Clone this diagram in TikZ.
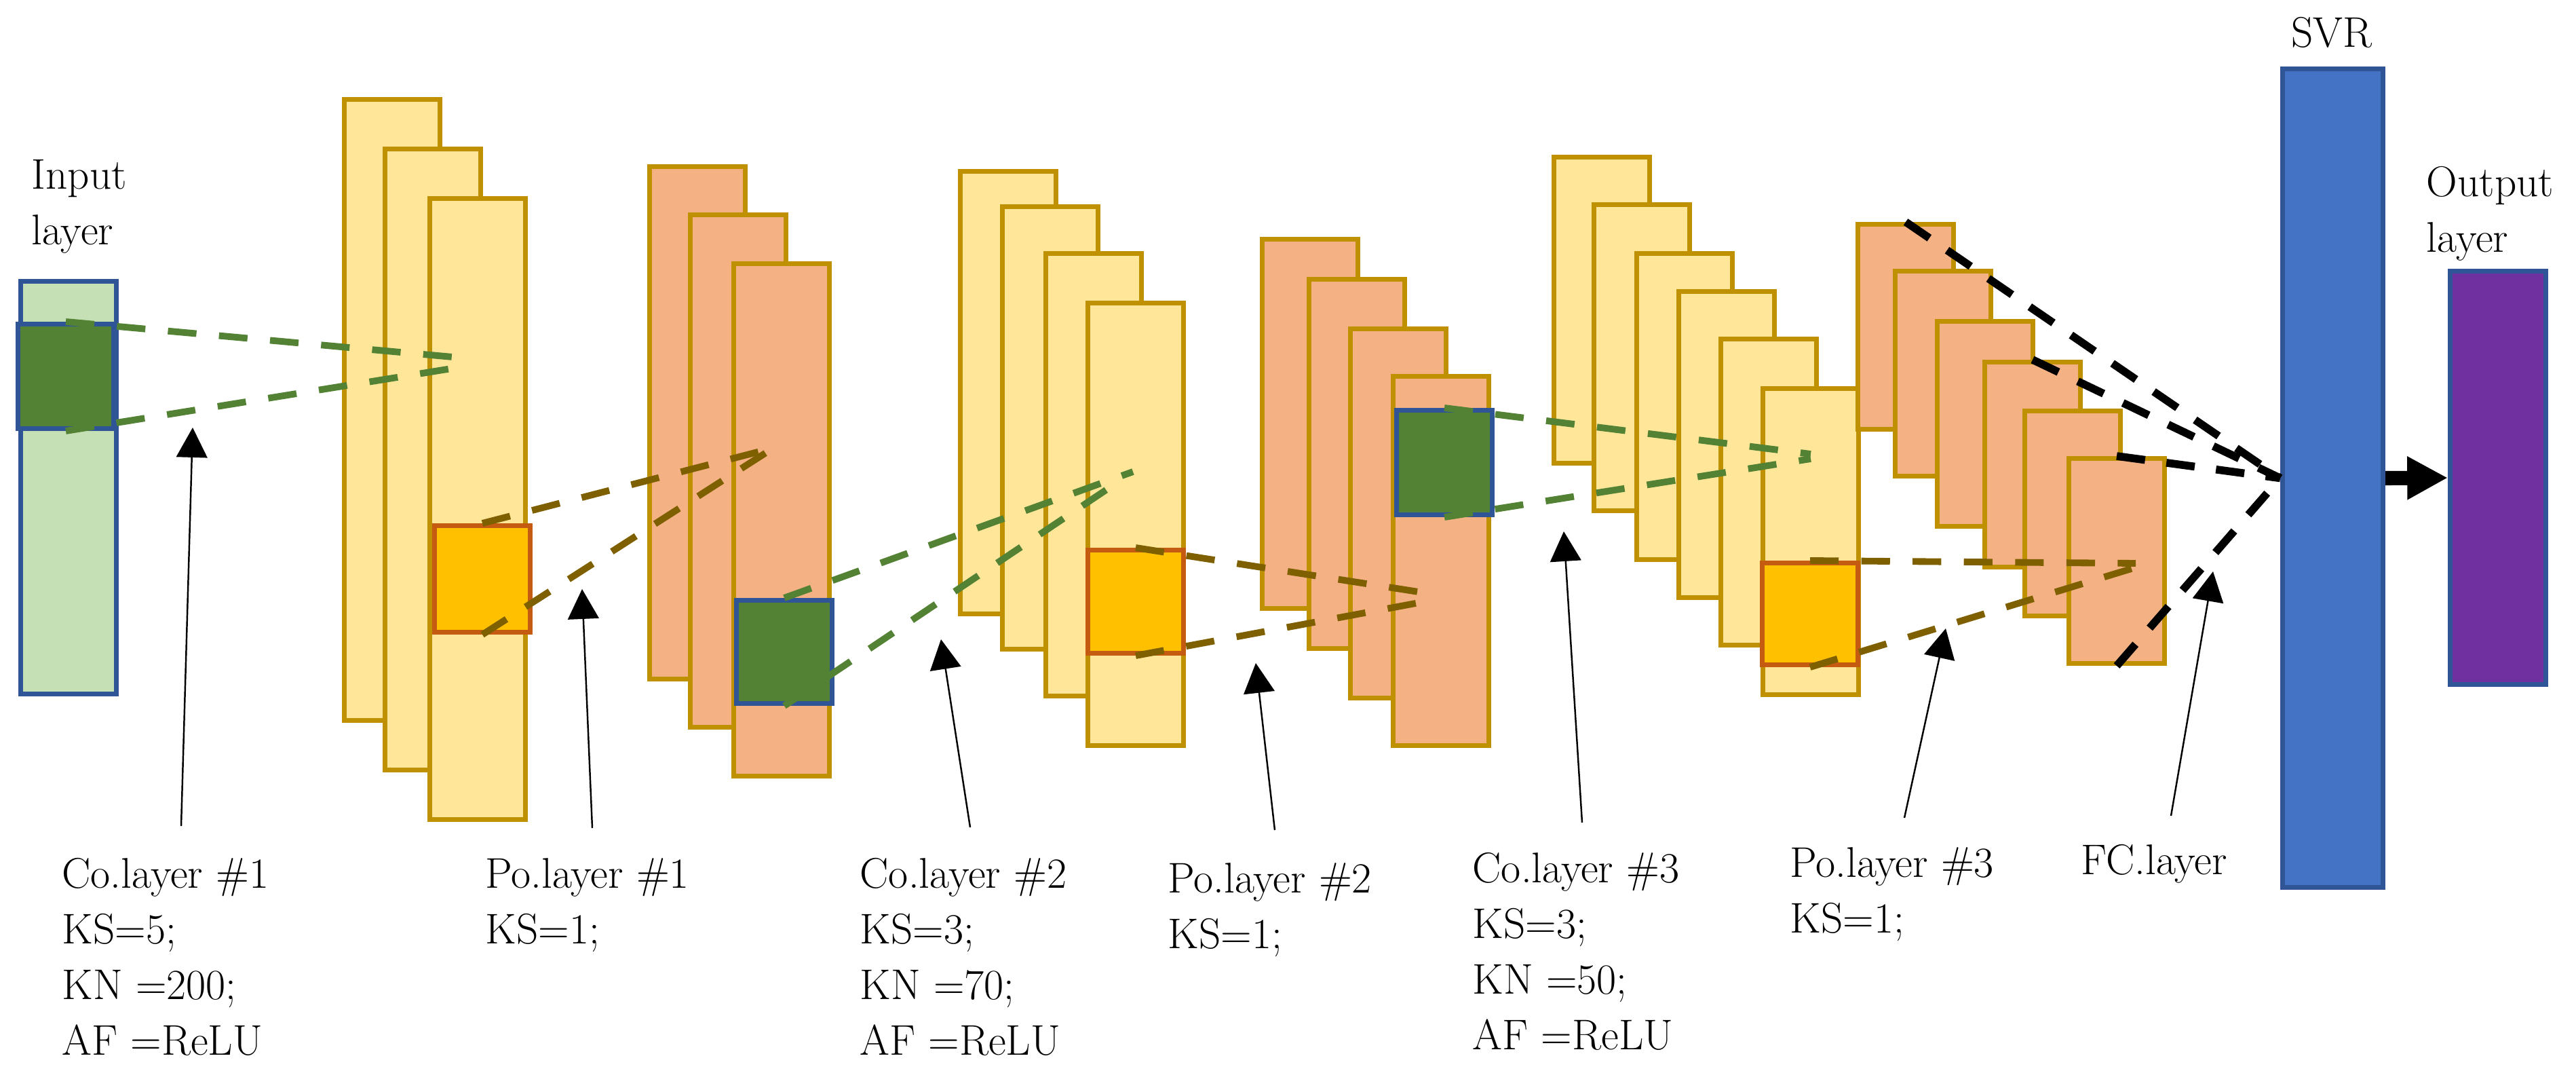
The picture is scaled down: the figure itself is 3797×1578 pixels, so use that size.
\documentclass[tikz,border=0pt]{standalone}
\usepackage{tikz}
\usetikzlibrary{arrows.meta}

\definecolor{inblue}{HTML}{2F5597}
\definecolor{ingreen}{HTML}{C5E0B4}
\definecolor{dgreen}{HTML}{548235}
\definecolor{gold}{HTML}{BF9000}
\definecolor{lyellow}{HTML}{FFE699}
\definecolor{salmon}{HTML}{F4B183}
\definecolor{amber}{HTML}{FFC000}
\definecolor{rust}{HTML}{C55A11}
\definecolor{dbrown}{HTML}{7F6000}
\definecolor{svrblue}{HTML}{4472C4}
\definecolor{purp}{HTML}{7030A0}

\tikzset{
  box/.style={anchor=north west, inner sep=0pt, line width=2pt, minimum width=1.41cm},
  inlay/.style={box, draw=inblue, fill=ingreen},
  conv/.style={box, draw=gold, fill=lyellow},
  pool/.style={box, draw=gold, fill=salmon},
  gsq/.style={box, draw=inblue, fill=dgreen},
  osq/.style={box, draw=rust, fill=amber},
  gdash/.style={draw=dgreen, line width=2.8pt, dash pattern=on 12pt off 9.5pt},
  bdash/.style={draw=dbrown, line width=2.8pt, dash pattern=on 12pt off 9.5pt},
  kdash/.style={draw=black, line width=3.3pt, dash pattern=on 12pt off 9pt},
  pointer/.style={-{Triangle[length=12.5pt,width=13pt]}, line width=0.7pt},
  lab/.style={anchor=north west, inner sep=0pt, align=left,
    font=\fontsize{18pt}{23.3pt}\selectfont}
}

\begin{document}
\begin{tikzpicture}[x=0.1mm, y=-0.1mm]
  \useasboundingbox (0,0) rectangle (3797,1578);

  % input
  \node[inlay, minimum height=6.08cm] (in) at (27,411) {};
  \node[gsq, minimum height=1.54cm] (insq) at (23,474) {};
  \node[lab] (inlab) at (46,235) {Input\\layer};

  % conv 1
  \node[conv, minimum height=9.15cm] (co1a) at (504,143) {};
  \node[conv, minimum height=9.15cm] (co1b) at (564,216) {};
  \node[conv, minimum height=9.15cm] (co1c) at (630,289) {};
  \node[osq, minimum height=1.57cm] (sqa) at (637,771) {};

  % pool 1
  \node[pool, minimum height=7.55cm] (po1a) at (954,242) {};
  \node[pool, minimum height=7.55cm] (po1b) at (1014,313) {};
  \node[pool, minimum height=7.55cm] (po1c) at (1078,385) {};
  \node[gsq, minimum height=1.52cm] (sqb) at (1082,881) {};

  % conv 2
  \node[conv, minimum height=6.52cm] (co2a) at (1412,249) {};
  \node[conv, minimum height=6.52cm] (co2b) at (1474,301) {};
  \node[conv, minimum height=6.52cm] (co2c) at (1538,370) {};
  \node[conv, minimum height=6.52cm] (co2d) at (1600,443) {};
  \node[osq, minimum height=1.52cm] (sqc) at (1600,807) {};

  % pool 2
  \node[pool, minimum height=5.44cm] (po2a) at (1857,349) {};
  \node[pool, minimum height=5.44cm] (po2b) at (1926,408) {};
  \node[pool, minimum height=5.44cm] (po2c) at (1987,481) {};
  \node[pool, minimum height=5.44cm] (po2d) at (2050,551) {};
  \node[gsq, minimum height=1.54cm] (sqd) at (2055,601) {};

  % conv 3
  \node[conv, minimum height=4.51cm] (co3a) at (2287,228) {};
  \node[conv, minimum height=4.51cm] (co3b) at (2346,298) {};
  \node[conv, minimum height=4.51cm] (co3c) at (2409,370) {};
  \node[conv, minimum height=4.51cm] (co3d) at (2471,426) {};
  \node[conv, minimum height=4.51cm] (co3e) at (2533,496) {};
  \node[conv, minimum height=4.51cm] (co3f) at (2595,569) {};
  \node[osq, minimum height=1.50cm] (sqe) at (2594,826) {};

  % pool 3
  \node[pool, minimum height=3.02cm] (po3a) at (2735,327) {};
  \node[pool, minimum height=3.02cm] (po3b) at (2790,396) {};
  \node[pool, minimum height=3.02cm] (po3c) at (2852,470) {};
  \node[pool, minimum height=3.02cm] (po3d) at (2922,530) {};
  \node[pool, minimum height=3.02cm] (po3e) at (2981,602) {};
  \node[pool, minimum height=3.02cm] (po3f) at (3046,672) {};

  % svr and output
  \node[box, draw=inblue, fill=svrblue, minimum width=1.48cm, minimum height=12.06cm] (svr) at (3361,98) {};
  \node[anchor=base, inner sep=0pt, font=\fontsize{18pt}{23.3pt}\selectfont] (svrlab) at (3437,70) {SVR};
  \node[box, draw=inblue, fill=purp, minimum height=6.09cm] (outl) at (3608,396) {};
  \node[lab] (outlab) at (3576,245) {Output\\layer};

  % kernel ends
  \coordinate (ga1) at (678,527);
  \coordinate (ga2) at (678,541);
  \coordinate (ba) at (1140,660);
  \coordinate (gb1) at (1670,695);
  \coordinate (gb2) at (1645,712);
  \coordinate (bb1) at (2097,873);
  \coordinate (bb2) at (2097,887);
  \coordinate (gc1) at (2669,669);
  \coordinate (gc2) at (2669,676);
  \coordinate (bc1) at (3148,830);
  \coordinate (bc2) at (3148,836);

  \draw[gdash] (insq.north) -- (ga1);
  \draw[gdash] (insq.south) -- (ga2);
  \draw[bdash] (sqa.north) -- (ba);
  \draw[bdash] (sqa.south) -- (ba);
  \draw[gdash] (sqb.north) -- (gb1);
  \draw[gdash] (sqb.south) -- (gb2);
  \draw[bdash] (sqc.north) -- (bb1);
  \draw[bdash] (sqc.south) -- (bb2);
  \draw[gdash] (sqd.north) -- (gc1);
  \draw[gdash] (sqd.south) -- (gc2);
  \draw[bdash] (sqe.north) -- (bc1);
  \draw[bdash] (sqe.south) -- (bc2);

  \draw[kdash] (po3a.north) -- (svr.west);
  \draw[kdash] (po3d.north) -- (svr.west);
  \draw[kdash] (po3f.north) -- (svr.west);
  \draw[kdash] (po3f.south) -- (svr.west);

  \draw[-{Triangle[length=17pt,width=17pt]}, line width=6pt] (svr.east) -- (outl.west);

  % labels
  \node[lab] (l1) at (91,1264) {Co.layer \#1\\KS=5;\\KN =200;\\AF =ReLU};
  \node[lab] (l2) at (715,1264) {Po.layer \#1\\KS=1;};
  \node[lab] (l3) at (1267,1264) {Co.layer \#2\\KS=3;\\KN =70;\\AF =ReLU};
  \node[lab] (l4) at (1721,1271) {Po.layer \#2\\KS=1;};
  \node[lab] (l5) at (2170,1256) {Co.layer \#3\\KS=3;\\KN =50;\\AF =ReLU};
  \node[lab] (l6) at (2638,1248) {Po.layer \#3\\KS=1;};
  \node[lab] (l7) at (3067,1244) {FC.layer};

  \coordinate (s1) at (267,1217);  \coordinate (t1) at (284,630);
  \coordinate (s2) at (873,1220);  \coordinate (t2) at (858,868);
  \coordinate (s3) at (1430,1219); \coordinate (t3) at (1387,942);
  \coordinate (s4) at (1879,1223); \coordinate (t4) at (1851,977);
  \coordinate (s5) at (2332,1212); \coordinate (t5) at (2305,783);
  \coordinate (s6) at (2807,1205); \coordinate (t6) at (2868,926);
  \coordinate (s7) at (3200,1202); \coordinate (t7) at (3262,842);

  \draw[pointer] (s1) -- (t1);
  \draw[pointer] (s2) -- (t2);
  \draw[pointer] (s3) -- (t3);
  \draw[pointer] (s4) -- (t4);
  \draw[pointer] (s5) -- (t5);
  \draw[pointer] (s6) -- (t6);
  \draw[pointer] (s7) -- (t7);
\end{tikzpicture}
\end{document}
